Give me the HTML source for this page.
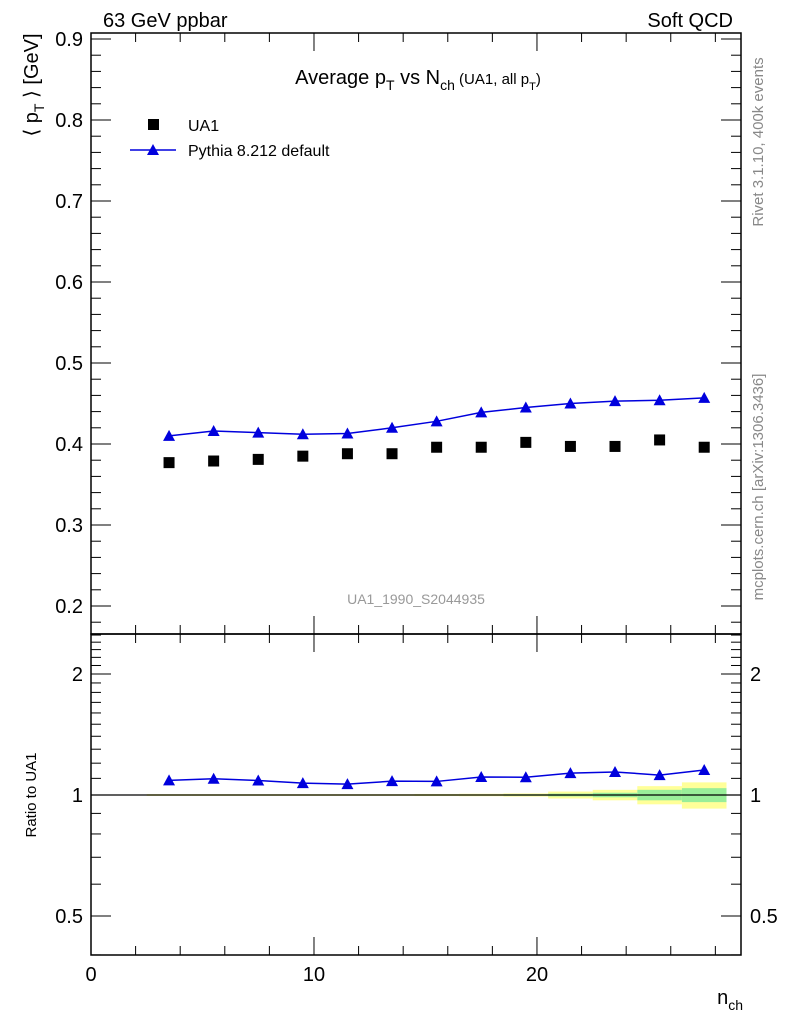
<!DOCTYPE html>
<html><head><meta charset="utf-8"><style>
body{margin:0;background:#fff;width:786px;height:1024px;overflow:hidden}
text{font-family:"Liberation Sans","DejaVu Sans",sans-serif}
</style></head><body>
<svg id="c" width="786" height="1024" xmlns="http://www.w3.org/2000/svg"></svg>
<script>
const xCenters=[3.5,5.5,7.5,9.5,11.5,13.5,15.5,17.5,19.5,21.5,23.5,25.5,27.5];
const ua1Values=[0.377,0.379,0.381,0.385,0.388,0.388,0.396,0.396,0.402,0.397,0.397,0.405,0.396];
const pythiaValues=[0.410,0.416,0.414,0.412,0.413,0.420,0.428,0.439,0.445,0.450,0.453,0.454,0.457];
const yellowErr=[0.005,0.005,0.005,0.005,0.005,0.005,0.006,0.007,0.009,0.02,0.03,0.052,0.075];
const greenErr=[0.002,0.002,0.002,0.002,0.002,0.002,0.003,0.003,0.004,0.008,0.013,0.03,0.04];
const mainYTicks=[0.2,0.3,0.4,0.5,0.6,0.7,0.8,0.9];
const ratioYTicks=[0.5,1,2];
const xTicks=[0,10,20];
const svg=document.getElementById('c');const NS='http://www.w3.org/2000/svg';
const L=91,R=741,T=33,M=634,B=955;
const X=v=>L+(v)*(R-L)/29.15;
const Y=v=>39+(0.9-v)*810;
const RY=v=>795-Math.log2(v)*121;
function el(t,a,p){const e=document.createElementNS(NS,t);for(const k in a)e.setAttribute(k,a[k]);(p||svg).appendChild(e);return e;}
function tx(x,y,s,size,anchor,name,extra){const e=el('text',Object.assign({x:x,y:y,'font-size':size,'text-anchor':anchor||'start'},extra||{}));e.textContent=s;return e;}
for(let i=0;i<xCenters.length;i++){
 const x0=X(xCenters[i]-1),x1=X(xCenters[i]+1);
 let r=el('rect',{x:x0,y:RY(1+yellowErr[i]),width:x1-x0,height:RY(1-yellowErr[i])-RY(1+yellowErr[i]),fill:'#ffff99'});
 
 r=el('rect',{x:x0,y:RY(1+greenErr[i]),width:x1-x0,height:RY(1-greenErr[i])-RY(1+greenErr[i]),fill:'#99ee99'});
 
}
el('line',{x1:L,x2:R,y1:RY(1),y2:RY(1),stroke:'#000','stroke-width':1.2});
let f=el('rect',{x:L,y:T,width:R-L,height:M-T,fill:'none',stroke:'#000','stroke-width':1.5});

f=el('rect',{x:L,y:M,width:R-L,height:B-M,fill:'none',stroke:'#000','stroke-width':1.5});

for(let v=0;v<=29;v+=2){const maj=v%10===0;const h=maj?18:9;
 for(const yb of [M,B]){el('line',{x1:X(v),x2:X(v),y1:yb,y2:yb-h,stroke:'#000'});}
 el('line',{x1:X(v),x2:X(v),y1:T,y2:T+h,stroke:'#000'});
 el('line',{x1:X(v),x2:X(v),y1:M,y2:M+h,stroke:'#000'});}
xTicks.forEach(v=>tx(X(v),981,String(v),20,'middle','x-tick-label'));
for(let k=9;k<=45;k++){const v=k/50;const y=Y(v);if(y<T||y>M)continue;const maj=k%5===0;const h=maj?20:10;
 el('line',{x1:L,x2:L+h,y1:y,y2:y,stroke:'#000'});el('line',{x1:R,x2:R-h,y1:y,y2:y,stroke:'#000'});}
mainYTicks.forEach(v=>tx(83,Y(v)+7,v.toFixed(1),20,'end','y-tick-label'));
const rmin=[0.4,0.6,0.7,0.8,0.9,1.1,1.2,1.3,1.4,1.5,1.6,1.7,1.8,1.9,2.1,2.2,2.3,2.4,2.5];
rmin.forEach(v=>{const y=RY(v);el('line',{x1:L,x2:L+10,y1:y,y2:y,stroke:'#000'});el('line',{x1:R,x2:R-10,y1:y,y2:y,stroke:'#000'});});
ratioYTicks.forEach(v=>{const y=RY(v);el('line',{x1:L,x2:L+20,y1:y,y2:y,stroke:'#000'});el('line',{x1:R,x2:R-20,y1:y,y2:y,stroke:'#000'});
 tx(83,y+7,String(v),20,'end','ratio-tick-label');tx(750,y+7,String(v),20,'start','ratio-tick-label-right');});
let pts=xCenters.map((x,i)=>X(x)+','+Y(pythiaValues[i])).join(' ');
let pl=el('polyline',{points:pts,fill:'none',stroke:'#0000dd','stroke-width':1.5});

const tri=(x,y,name)=>{const p=el('polygon',{points:`${x},${y-6} ${x-6},${y+5} ${x+6},${y+5}`,fill:'#0000dd'});};
xCenters.forEach((x,i)=>tri(X(x),Y(pythiaValues[i]),'pythia-point'));
xCenters.forEach((x,i)=>{const r=el('rect',{x:X(x)-5.5,y:Y(ua1Values[i])-5.5,width:11,height:11,fill:'#000'});});
pts=xCenters.map((x,i)=>X(x)+','+RY(pythiaValues[i]/ua1Values[i])).join(' ');
pl=el('polyline',{points:pts,fill:'none',stroke:'#0000dd','stroke-width':1.5});

xCenters.forEach((x,i)=>tri(X(x),RY(pythiaValues[i]/ua1Values[i]),'ratio-point'));
tx(103,27,'63 GeV ppbar',20,'start','top-left-label');
tx(733,27,'Soft QCD',20,'end','top-right-label');
let t=tx(418,84,'',20,'middle','plot-title');t.innerHTML='Average p<tspan dy="6" font-size="14">T</tspan><tspan dy="-6"> vs N</tspan><tspan dy="6" font-size="14">ch</tspan><tspan dy="-6" font-size="15"> (UA1, all p</tspan><tspan dy="6" font-size="11">T</tspan><tspan dy="-6" font-size="15">)</tspan>';
let r=el('rect',{x:148,y:119,width:11,height:11,fill:'#000'});
tx(188,131,'UA1',16,'start','legend-ua1');
el('line',{x1:130,x2:176,y1:150,y2:150,stroke:'#0000dd','stroke-width':1.5});tri(153,150,'legend-pythia-marker');
tx(188,156,'Pythia 8.212 default',16,'start','legend-pythia');
tx(416,604,'UA1_1990_S2044935',14,'middle','analysis-id',{fill:'#999'});
t=tx(0,0,'',20,'middle','y-axis-title',{transform:'translate(38,85) rotate(-90)'});t.innerHTML='⟨ p<tspan dy="6" font-size="14">T</tspan><tspan dy="-6"> ⟩ [GeV]</tspan>';
tx(0,0,'Ratio to UA1',15,'middle','ratio-axis-title',{transform:'translate(36,795) rotate(-90)'});
t=tx(743,1004,'',20,'end','x-axis-title');t.innerHTML='n<tspan dy="6" font-size="14">ch</tspan>';
tx(0,0,'Rivet 3.1.10,  400k events',15,'middle','rivet-label',{transform:'translate(763,142) rotate(-90)',fill:'#888'});
tx(0,0,'mcplots.cern.ch [arXiv:1306.3436]',15,'middle','mcplots-label',{transform:'translate(763,487) rotate(-90)',fill:'#888'});
</script>
</body></html>
